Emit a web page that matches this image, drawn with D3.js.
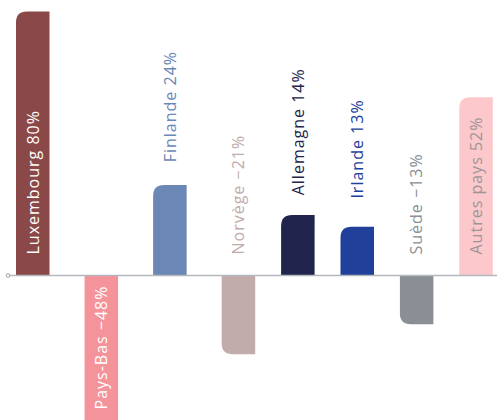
<!DOCTYPE html>
<html>
<head>
<meta charset="utf-8">
<script src="https://cdn.jsdelivr.net/npm/d3@7"></script>
<style>
  html, body { margin: 0; padding: 0; background: #fff; }
  svg { display: block; font-family: "Open Sans", sans-serif; }
</style>
</head>
<body>
<div id="chart"></div>
<script>
// labels as printed on the chart
const countries = ["Luxembourg", "Pays-Bas", "Finlande", "Norvège", "Allemagne", "Irlande", "Suède", "Autres pays"];
const shares = [80, -48, 24, -21, 14, 13, -13, 52];
// bar lengths (same % units)
const barValues = [80, -48, 27.4, -23.9, 18.3, 14.8, -14.8, 54];
const colors = ["#8a4848", "#f5939a", "#6a87b6", "#c1abab", "#21244c", "#21409a", "#898f95", "#fdc8cc"];
const labelColors = ["#ffffff", "#ffffff", "#6a87b6", "#c1abab", "#21244c", "#21409a", "#898f95", "#9c9698"];

const width = 497;
const height = 420;
const axisY = 275.5;
const barWidth = 33.5;
const radius = 11;

const fmt = (v) => (v < 0 ? "\u2212" + Math.abs(v) : v) + "%";

const svg = d3.select("#chart")
  .append("svg")
  .attr("width", width)
  .attr("height", height);

// bars are not evenly spaced: first four a bit wider apart than the rest
const x = d3.scaleLinear()
  .domain([0, 3, 7])
  .range([16, 221.7, 459.3]);

const y = d3.scaleLinear()
  .domain([0, 80])
  .range([axisY, 11.5]);

const barPath = (i) => {
  const v = barValues[i];
  const x0 = x(i);
  const x1 = x0 + barWidth;
  const y0 = y(0);
  const yEnd = y(v);
  const r = Math.min(radius, Math.abs(yEnd - y0));
  if (v >= 0) {
    return `M${x0},${y0}V${yEnd + r}Q${x0},${yEnd} ${x0 + r},${yEnd}H${x1}V${y0}Z`;
  }
  return `M${x0},${y0}V${yEnd - r}Q${x0},${yEnd} ${x0 + r},${yEnd}H${x1}V${y0}Z`;
};

svg.append("g")
  .selectAll("path")
  .data(countries)
  .join("path")
  .attr("d", (d, i) => barPath(i))
  .attr("fill", (d, i) => colors[i]);

// axis line with the small dot at its origin
svg.append("line")
  .attr("x1", 8)
  .attr("x2", width)
  .attr("y1", y(0))
  .attr("y2", y(0))
  .attr("stroke", "#b4b8bc")
  .attr("stroke-width", 1.5);

svg.append("circle")
  .attr("cx", 8)
  .attr("cy", y(0))
  .attr("r", 1.8)
  .attr("fill", "#fff")
  .attr("stroke", "#9aa0a6")
  .attr("stroke-width", 1);

const labels = svg.append("g")
  .selectAll("text")
  .data(countries)
  .join("text")
  .attr("font-size", 16)
  .attr("letter-spacing", "1px")
  .attr("dy", "0.36em")
  .text((d, i) => `${d} ${fmt(shares[i])}`);

labels.each(function (d, i) {
  const t = d3.select(this);
  const len = this.getComputedTextLength();
  const v = barValues[i];
  const barLen = Math.abs(y(v) - y(0));
  const cx = x(i) + barWidth / 2;
  const fits = barLen > len + 20;
  let pos;
  let anchor = "start";
  if (fits && v >= 0) {
    pos = y(0) - 21;
  } else if (fits) {
    pos = y(0) + 10;
    anchor = "end";
  } else if (v >= 0) {
    pos = y(shares[i]) - 34;
  } else {
    pos = y(0) - 21;
  }
  t.attr("transform", `translate(${cx},${pos}) rotate(-90)`)
    .attr("text-anchor", anchor)
    .attr("fill", fits ? labelColors[i] : colors[i]);
});
</script>
</body>
</html>
